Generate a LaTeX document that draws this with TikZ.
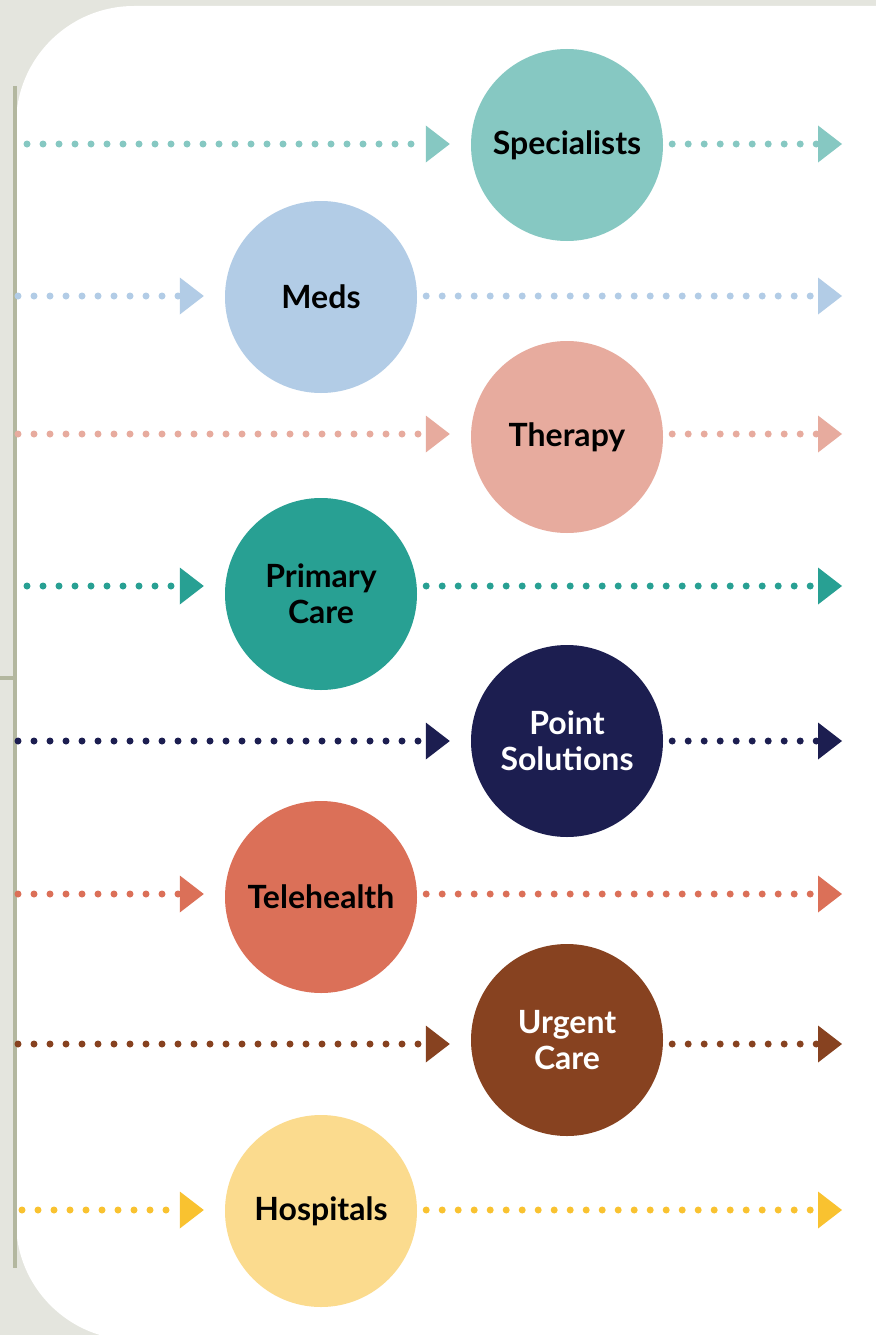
\documentclass[tikz,border=0pt]{standalone}
\usepackage{fontspec}
\setmainfont{Lato}
\usetikzlibrary{arrows.meta}

\definecolor{bgGrey}{HTML}{E4E5DE}
\definecolor{barGrey}{HTML}{B3B79F}
\definecolor{specTeal}{HTML}{86C8C2}
\definecolor{medsBlue}{HTML}{B2CCE6}
\definecolor{therPink}{HTML}{E7AB9E}
\definecolor{primTeal}{HTML}{28A093}
\definecolor{pointNavy}{HTML}{1C1E50}
\definecolor{teleCoral}{HTML}{DB7058}
\definecolor{urgBrown}{HTML}{874220}
\definecolor{hospYellow}{HTML}{FBDB8E}
\definecolor{hospGold}{HTML}{F9C230}

\tikzset{
    stage/.style={circle, minimum size=192pt, inner sep=0pt, align=center,
        font=\fontsize{32}{36}\selectfont\bfseries},
    dotflow/.style={line width=7pt, line cap=round, dash pattern=on 0pt off 16pt,
        -{Triangle[length=24pt, width=37pt, line width=0pt]}},
}

\begin{document}
\begin{tikzpicture}[x=1pt, y=-1pt]
    % Page and panel
    \useasboundingbox (0,0) rectangle (876,1335);
    \fill[bgGrey] (0,0) rectangle (876,1335);
    \fill[white, rounded corners=118pt] (900,6) -- (16,6) -- (16,1340) -- (900,1340);
    \draw[barGrey, line width=4pt] (15,86) -- (15,1268);
    \draw[barGrey, line width=4pt] (0,678) -- (15,678);

    % Care stages with their flows
    \foreach \n/\lbl/\fc/\ac/\tc/\cx/\cy/\ay/\sx in {
        spec/Specialists/specTeal/specTeal/black/567/145/144/27,
        meds/Meds/medsBlue/medsBlue/black/321/297/296/18,
        ther/Therapy/therPink/therPink/black/567/437/434/18,
        prim/{Primary\\Care}/primTeal/primTeal/black/321/594/586/27,
        point/{Point\\Solutions}/pointNavy/pointNavy/white/567/741/741/18,
        tele/Telehealth/teleCoral/teleCoral/black/321/897/894/18,
        urg/{Urgent\\Care}/urgBrown/urgBrown/white/567/1040/1044/18,
        hosp/Hospitals/hospYellow/hospGold/black/321/1211/1210/22} {
        \node[stage, fill=\fc, text=\tc] (\n) at (\cx,\cy) {\lbl};
        \coordinate (\n-in) at (\sx,\ay);
        \coordinate (\n-out) at (842,\ay);
        \draw[dotflow, color=\ac, shorten >=21pt] (\n-in) -- (\n.west |- \n-in);
        \draw[dotflow, color=\ac, shorten <=9pt] (\n.east |- \n-out) -- (\n-out);
    }
\end{tikzpicture}
\end{document}
